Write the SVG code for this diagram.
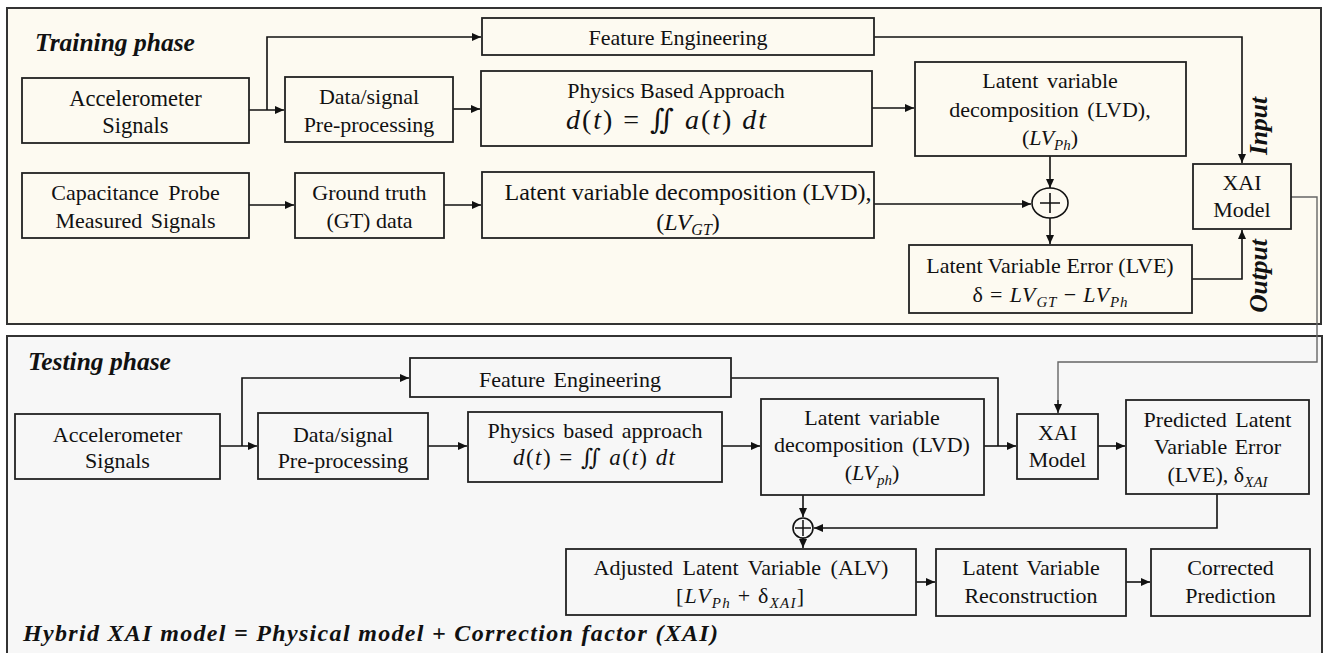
<svg xmlns="http://www.w3.org/2000/svg" width="1324" height="653" viewBox="0 0 1324 653">
<defs>
<marker id="ah" markerUnits="userSpaceOnUse" markerWidth="9" markerHeight="8" refX="9" refY="4" orient="auto"><path d="M0,0 L9,4 L0,8 z" fill="#111"/></marker>
<style>
.box{fill:none;stroke:#222;stroke-width:1.8}
.t{font-family:'Liberation Serif','Times New Roman','DejaVu Serif',serif;font-size:22px;fill:#111;text-anchor:middle}
.m{font-style:italic}
.c{fill:none;stroke:#111;stroke-width:1.6;marker-end:url(#ah)}
.cn{fill:none;stroke:#111;stroke-width:1.6}
.g{fill:none;stroke:#666;stroke-width:1.4}
.h{font-family:'Liberation Serif','Times New Roman','DejaVu Serif',serif;font-size:25.5px;font-weight:bold;font-style:italic;fill:#111}
</style>
</defs>
<rect width="1324" height="653" fill="#fff"/>
<rect x="7" y="8" width="1314" height="316" fill="#fdfaf1" stroke="#333" stroke-width="2"/>
<rect x="7" y="336" width="1315" height="330" fill="#f7f7f7" stroke="#333" stroke-width="2"/>
<text class="h" x="35" y="51">Training phase</text>
<text class="h" x="28" y="370">Testing phase</text>

<g id="connectors">
<path class="c" d="M249,110 H284"/>
<path class="c" d="M267,110 V37 H481"/>
<path class="c" d="M453,109 H480"/>
<path class="c" d="M872,108 H914"/>
<path class="c" d="M249,205 H294"/>
<path class="c" d="M444,205 H481"/>
<path class="c" d="M874,204 H1031"/>
<path class="c" d="M1050,156 V188"/>
<path class="c" d="M1050,218 V244"/>
<path class="c" d="M874,37 H1242 V163"/>
<path class="c" d="M1192,279 H1242 V230"/>
<path class="g" d="M1291,197 H1317 V362 H1058 V404"/>
<path class="c" d="M1058,400 V413" style="stroke:#333"/>
<path class="c" d="M220,446 H257"/>
<path class="c" d="M242,446 V378 H409"/>
<path class="c" d="M428,446 H467"/>
<path class="c" d="M722,446 H760"/>
<path class="cn" d="M731,378 H998 V446"/>
<path class="c" d="M984,446 H1016"/>
<path class="c" d="M1098,446 H1125"/>
<path class="c" d="M803,495 V517"/>
<path class="c" d="M1217,494 V528 H814"/>
<path class="c" d="M803,538 V548"/>
<path class="c" d="M916,582 H935"/>
<path class="c" d="M1126,582 H1150"/>
</g>

<g id="tr-accel"><rect class="box" x="22" y="78" width="227" height="65"/><text class="t" x="135.5" y="106" style="font-size:22.5px">Accelerometer</text><text class="t" x="135.5" y="133" style="font-size:22.5px">Signals</text></g>
<g id="tr-pre"><rect class="box" x="285" y="77" width="168" height="65"/><text class="t" x="369" y="104">Data/signal</text><text class="t" x="369" y="132">Pre-processing</text></g>
<g id="tr-cap"><rect class="box" x="22" y="173" width="227" height="65"/><text class="t" x="135.5" y="200" word-spacing="4">Capacitance Probe</text><text class="t" x="135.5" y="228" word-spacing="3">Measured Signals</text></g>
<g id="tr-gt"><rect class="box" x="295" y="173" width="149" height="65"/><text class="t" x="369.5" y="200">Ground truth</text><text class="t" x="369.5" y="228">(GT) data</text></g>
<g id="tr-fe"><rect class="box" x="482" y="18" width="392" height="37"/><text class="t" x="678" y="45">Feature Engineering</text></g>
<g id="tr-phys"><rect class="box" x="481" y="71" width="391" height="75"/><text class="t" x="676" y="98">Physics Based Approach</text><text class="t" x="666" y="129" style="font-size:28px" textLength="200" lengthAdjust="spacing"><tspan class="m">d</tspan>(<tspan class="m">t</tspan>) = ∬ <tspan class="m">a</tspan>(<tspan class="m">t</tspan>) <tspan class="m">dt</tspan></text></g>
<g id="tr-lvdgt"><rect class="box" x="482" y="172" width="392" height="66"/><text class="t" x="688" y="200" style="font-size:24px">Latent variable decomposition (LVD),</text><text class="t" x="688" y="230" style="font-size:24px">(<tspan class="m">LV</tspan><tspan class="m" font-size="16" dy="5">GT</tspan><tspan dy="-5">)</tspan></text></g>
<g id="tr-lvdph"><rect class="box" x="915" y="62" width="271" height="94"/><text class="t" x="1050" y="88" word-spacing="3">Latent variable</text><text class="t" x="1050" y="117" word-spacing="3">decomposition (LVD),</text><text class="t" x="1050" y="145">(<tspan class="m">LV</tspan><tspan class="m" font-size="15" dy="5">Ph</tspan><tspan dy="-5">)</tspan></text></g>
<g id="tr-sum"><ellipse cx="1050" cy="203" rx="18" ry="15" fill="none" stroke="#111" stroke-width="1.6"/><path d="M1040,203 H1060 M1050,193 V213" stroke="#111" stroke-width="1.6"/></g>
<g id="tr-lve"><rect class="box" x="909" y="245" width="283" height="68"/><text class="t" x="1050" y="273">Latent Variable Error (LVE)</text><text class="t" x="1050" y="302" textLength="155" lengthAdjust="spacing">δ = <tspan class="m">LV</tspan><tspan class="m" font-size="15" dy="5">GT</tspan><tspan dy="-5"> − </tspan><tspan class="m">LV</tspan><tspan class="m" font-size="15" dy="5">Ph</tspan></text></g>
<g id="tr-xai"><rect class="box" x="1193" y="164" width="98" height="65"/><text class="t" x="1242" y="190">XAI</text><text class="t" x="1242" y="217">Model</text></g>
<text class="h" transform="translate(1267,126) rotate(-90)" text-anchor="middle">Input</text>
<text class="h" transform="translate(1267,276) rotate(-90)" text-anchor="middle">Output</text>

<g id="te-accel"><rect class="box" x="15" y="414" width="205" height="65"/><text class="t" x="117.5" y="442">Accelerometer</text><text class="t" x="117.5" y="468">Signals</text></g>
<g id="te-pre"><rect class="box" x="258" y="413" width="170" height="66"/><text class="t" x="343" y="442">Data/signal</text><text class="t" x="343" y="468">Pre-processing</text></g>
<g id="te-fe"><rect class="box" x="410" y="358" width="321" height="39"/><text class="t" x="570" y="387" word-spacing="3">Feature Engineering</text></g>
<g id="te-phys"><rect class="box" x="468" y="412" width="254" height="70"/><text class="t" x="595" y="438" word-spacing="3">Physics based approach</text><text class="t" x="594" y="465" style="font-size:23px" textLength="162" lengthAdjust="spacing"><tspan class="m">d</tspan>(<tspan class="m">t</tspan>) = ∬ <tspan class="m">a</tspan>(<tspan class="m">t</tspan>) <tspan class="m">dt</tspan></text></g>
<g id="te-lvd"><rect class="box" x="761" y="399" width="223" height="96"/><text class="t" x="872" y="425" word-spacing="3">Latent variable</text><text class="t" x="872" y="452" word-spacing="3">decomposition (LVD)</text><text class="t" x="872" y="480">(<tspan class="m">LV</tspan><tspan class="m" font-size="15" dy="5">ph</tspan><tspan dy="-5">)</tspan></text></g>
<g id="te-xai"><rect class="box" x="1017" y="414" width="81" height="65"/><text class="t" x="1057.5" y="440">XAI</text><text class="t" x="1057.5" y="467">Model</text></g>
<g id="te-pred"><rect class="box" x="1126" y="400" width="183" height="94"/><text class="t" x="1217.5" y="427" word-spacing="3">Predicted Latent</text><text class="t" x="1217.5" y="454" word-spacing="2">Variable Error</text><text class="t" x="1217.5" y="482">(LVE), δ<tspan class="m" font-size="15" dy="5">XAI</tspan></text></g>
<g id="te-sum"><circle cx="803" cy="528" r="10" fill="none" stroke="#111" stroke-width="1.6"/><path d="M795,528 H811 M803,520 V536" stroke="#111" stroke-width="1.5"/></g>
<g id="te-alv"><rect class="box" x="566" y="549" width="350" height="66"/><text class="t" x="741" y="575" word-spacing="4">Adjusted Latent Variable (ALV)</text><text class="t" x="740" y="603" textLength="128" lengthAdjust="spacing">[<tspan class="m">LV</tspan><tspan class="m" font-size="15" dy="5">Ph</tspan><tspan dy="-5"> + δ</tspan><tspan class="m" font-size="15" dy="5">XAI</tspan><tspan dy="-5">]</tspan></text></g>
<g id="te-lvr"><rect class="box" x="936" y="549" width="190" height="67"/><text class="t" x="1031" y="575" word-spacing="3">Latent Variable</text><text class="t" x="1031" y="603">Reconstruction</text></g>
<g id="te-corr"><rect class="box" x="1151" y="549" width="159" height="67"/><text class="t" x="1230.5" y="575">Corrected</text><text class="t" x="1230.5" y="603">Prediction</text></g>

<text class="h" x="23" y="641" style="font-size:24px" textLength="695" lengthAdjust="spacing">Hybrid XAI model = Physical model + Correction factor (XAI)</text>
</svg>
